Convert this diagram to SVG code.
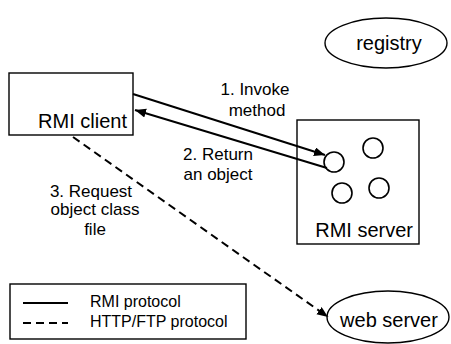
<svg xmlns="http://www.w3.org/2000/svg" width="451" height="344" viewBox="0 0 451 344">
<defs>
<style>
text{font-family:"Liberation Sans",Arial,sans-serif;fill:#000}
.box{fill:#fff;stroke:#000;stroke-width:1.4}
.node{font-size:20px}
.lbl{font-size:17px;text-anchor:middle}
.leg{font-size:16px}
.solid{stroke:#000;stroke-width:2;fill:none}
.dash{stroke:#000;stroke-width:2;fill:none;stroke-dasharray:8 5}
.obj{fill:#fff;stroke:#000;stroke-width:1.6}
</style>
<marker id="ah" markerUnits="userSpaceOnUse" markerWidth="12" markerHeight="10" refX="11" refY="4.5" orient="auto">
<path d="M0,0 L11,4.5 L0,9 z" fill="#000"/>
</marker>
</defs>
<rect width="451" height="344" fill="#fff"/>
<g id="rmi-client">
<rect class="box" x="9" y="73" width="124" height="62"/>
<text class="node" x="127" y="128" text-anchor="end">RMI client</text>
</g>
<g id="registry">
<ellipse class="box" cx="386" cy="43" rx="61" ry="25"/>
<text class="node" x="389" y="50" text-anchor="middle">registry</text>
</g>
<g id="rmi-server">
<rect class="box" x="297" y="120" width="122" height="124"/>
<circle class="obj" cx="334" cy="162" r="10"/>
<circle class="obj" cx="373" cy="148" r="10"/>
<circle class="obj" cx="342" cy="193" r="10"/>
<circle class="obj" cx="379" cy="188" r="10"/>
<text class="node" x="413" y="237" text-anchor="end">RMI server</text>
</g>
<g id="web-server">
<ellipse class="box" cx="388" cy="317" rx="61" ry="26"/>
<text class="node" x="389" y="327" text-anchor="middle">web server</text>
</g>
<g id="connectors">
<line class="solid" x1="133" y1="94" x2="325" y2="155" marker-end="url(#ah)"/>
<line class="solid" x1="327" y1="168" x2="135" y2="110" marker-end="url(#ah)"/>
<line class="dash" x1="73" y1="137" x2="328" y2="317" marker-end="url(#ah)"/>
</g>
<g id="labels">
<text class="lbl" x="255" y="95">1. Invoke</text>
<text class="lbl" x="257" y="116">method</text>
<text class="lbl" x="218" y="160">2. Return</text>
<text class="lbl" x="218" y="180">an object</text>
<text class="lbl" x="91" y="197">3. Request</text>
<text class="lbl" x="95" y="215">object class</text>
<text class="lbl" x="95" y="235">file</text>
</g>
<g id="legend">
<rect class="box" x="10" y="284" width="236" height="55"/>
<line class="solid" x1="23" y1="303" x2="68" y2="303" stroke-width="1.4"/>
<line class="dash" x1="23" y1="323" x2="68" y2="323" stroke-width="1.8" stroke-dasharray="11 6"/>
<text class="leg" x="90" y="307">RMI protocol</text>
<text class="leg" x="90" y="327">HTTP/FTP protocol</text>
</g>
</svg>
